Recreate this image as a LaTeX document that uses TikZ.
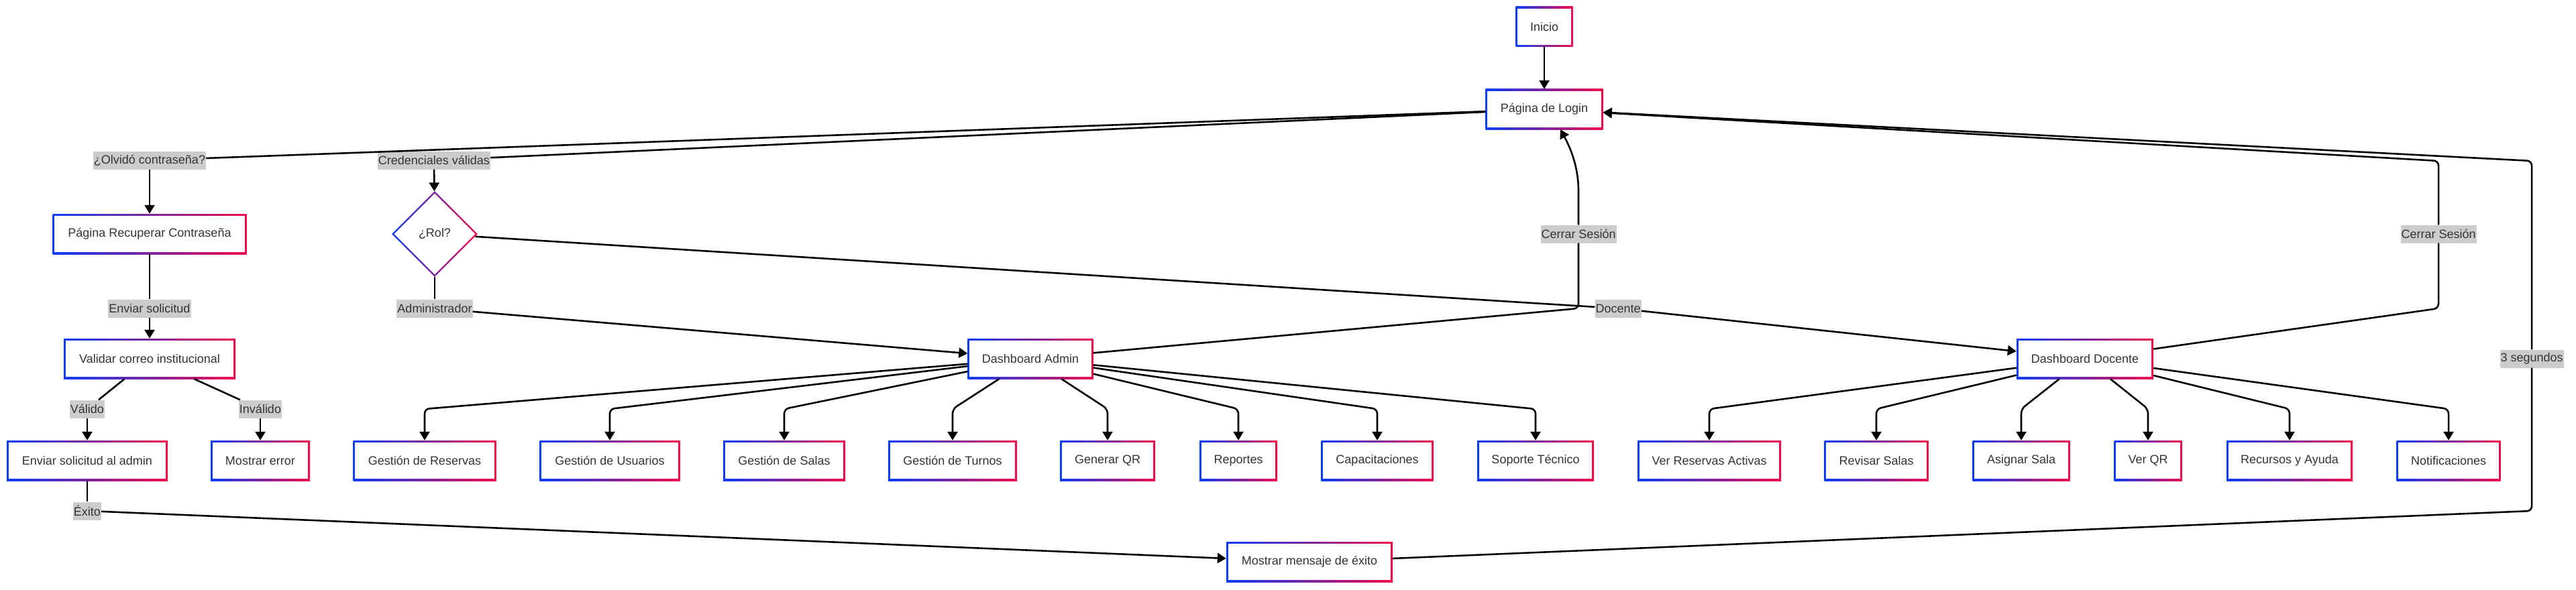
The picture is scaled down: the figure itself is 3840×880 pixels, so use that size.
\documentclass[tikz,border=0pt]{standalone}
\usepackage{fontspec}
\setmainfont{Liberation Sans}
\usetikzlibrary{shapes.geometric, arrows.meta}
\definecolor{gblue}{RGB}{10,60,245}
\definecolor{gred}{RGB}{240,10,75}
\definecolor{txt}{RGB}{51,51,51}
\definecolor{lblgray}{RGB}{204,204,204}
\newcommand{\nodefont}{\fontsize{18}{22}\selectfont}
\begin{document}
\begin{tikzpicture}[x=1pt, y=-1pt,
  gbox/.style={rectangle, fill=white, minimum height=60pt, inner sep=0pt, text=txt, font=\nodefont,
    path picture={
      \shade[left color=gblue, right color=gred]
        (path picture bounding box.south west) rectangle (path picture bounding box.north east);
      \fill[white] ([shift={(2.6pt,2.6pt)}]path picture bounding box.south west) rectangle
        ([shift={(-2.6pt,-2.6pt)}]path picture bounding box.north east);
    }},
  gdiam/.style={diamond, shape aspect=1, fill=white, minimum width=128pt, minimum height=128pt, inner sep=0pt, text=txt, font=\nodefont,
    path picture={
      \shade[left color=gblue, right color=gred]
        (path picture bounding box.south west) rectangle (path picture bounding box.north east);
      \fill[white] ([yshift=-3.6pt]path picture bounding box.north) -- ([xshift=-3.6pt]path picture bounding box.east)
        -- ([yshift=3.6pt]path picture bounding box.south) -- ([xshift=3.6pt]path picture bounding box.west) -- cycle;
    }},
  lbl/.style={rectangle, fill=lblgray, text=txt, font=\nodefont, inner xsep=1pt, inner ysep=0pt, minimum height=27pt},
  ln/.style={draw=black, line width=2.6pt, rounded corners=7pt},
  arr/.style={ln, -{Triangle[length=13pt, width=15pt]}},
]
\useasboundingbox (0,0) rectangle (3840,880);

% main nodes
\node[gbox, minimum width=85pt] (ini) at (2302,40) {Inicio};
\node[gbox, minimum width=175pt] (login) at (2302,163) {Página de Login};
\node[gbox, minimum width=289pt] (rec) at (223,349) {Página Recuperar Contraseña};
\node[gbox, minimum width=256pt] (val) at (223,535) {Validar correo institucional};
\node[gbox, minimum width=240pt] (env) at (130,687) {Enviar solicitud al admin};
\node[gbox, minimum width=148pt] (err) at (388,687) {Mostrar error};
\node[gdiam] (rol) at (648,349) {¿Rol?};
\node[gbox, minimum width=187pt] (adm) at (1536,535) {Dashboard Admin};
\node[gbox, minimum width=204pt] (doc) at (3108,535) {Dashboard Docente};
\node[gbox, minimum width=248pt] (msg) at (1952,838) {Mostrar mensaje de éxito};

% admin row
\node[gbox, minimum width=213pt] (res) at (633,687) {Gestión de Reservas};
\node[gbox, minimum width=209pt] (usu) at (909,687) {Gestión de Usuarios};
\node[gbox, minimum width=182pt] (sal) at (1169,687) {Gestión de Salas};
\node[gbox, minimum width=192pt] (tur) at (1420,687) {Gestión de Turnos};
\node[gbox, minimum width=142pt] (gqr) at (1651,687) {Generar QR};
\node[gbox, minimum width=116pt] (rep) at (1846,687) {Reportes};
\node[gbox, minimum width=167pt] (cap) at (2053,687) {Capacitaciones};
\node[gbox, minimum width=174pt] (sop) at (2289,687) {Soporte Técnico};

% docente row
\node[gbox, minimum width=214pt] (vra) at (2548,687) {Ver Reservas Activas};
\node[gbox, minimum width=155pt] (rsa) at (2797,687) {Revisar Salas};
\node[gbox, minimum width=145pt] (asa) at (3013,687) {Asignar Sala};
\node[gbox, minimum width=101pt] (vqr) at (3202,687) {Ver QR};
\node[gbox, minimum width=188pt] (ray) at (3413,687) {Recursos y Ayuda};
\node[gbox, minimum width=155pt] (notif) at (3650,687) {Notificaciones};

% labels
\node[lbl] (olv) at (223,239) {¿Olvidó contraseña?};
\node[lbl] (cred) at (647,239) {Credenciales válidas};
\node[lbl] (envl) at (223,460) {Enviar solicitud};
\node[lbl] (adml) at (648,460) {Administrador};
\node[lbl] (docl) at (2412,460) {Docente};
\node[lbl] (csa) at (2353,349) {Cerrar Sesión};
\node[lbl] (csd) at (3635,349) {Cerrar Sesión};
\node[lbl] (seg) at (3774,535) {3 segundos};
\node[lbl] (vall) at (130,610) {Válido};
\node[lbl] (invl) at (388,610) {Inválido};
\node[lbl] (exl) at (130,762) {Éxito};

\coordinate (bendy) at (0,610);
\coordinate (loginA) at ([xshift=24pt]login.south);

% edges
\draw[arr] (ini) -- (login);
\draw[ln] (login) -- (olv);
\draw[arr] (olv) -- (rec);
\draw[ln] (login) -- (cred);
\draw[arr] (cred) -- (rol);
\draw[ln] (rec) -- (envl);
\draw[arr] (envl) -- (val);
\draw[ln] (val) -- (vall);
\draw[arr] (vall) -- (env);
\draw[ln] (val) -- (invl);
\draw[arr] (invl) -- (err);
\draw[ln] (env) -- (exl);
\draw[arr] (exl) -- (msg);
\draw[ln] (rol) -- (adml);
\draw[arr] (adml) -- (adm);
\draw[ln] (rol) -- (docl);
\draw[arr] (docl) -- (doc);

\foreach \t in {res,usu,sal,tur,gqr,rep,cap,sop}{
  \draw[arr] (adm) -- (\t.north |- bendy) -- (\t.north);
}
\foreach \t in {vra,rsa,asa,vqr,ray,notif}{
  \draw[arr] (doc) -- (\t.north |- bendy) -- (\t.north);
}

\draw[ln] (adm) -- (2353,460) -- (csa);
\draw[arr, rounded corners=0pt] (csa) -- (2353,285) .. controls (2353,245) and (2338,215) .. (loginA);
\draw[ln] (doc) -- (3635,460) -- (csd);
\draw[arr] (csd) -- (3635,240) -- (login);
\draw[ln] (msg) -- (3774,762) -- (seg);
\draw[arr] (seg) -- (3774,240) -- (login);
\end{tikzpicture}
\end{document}
